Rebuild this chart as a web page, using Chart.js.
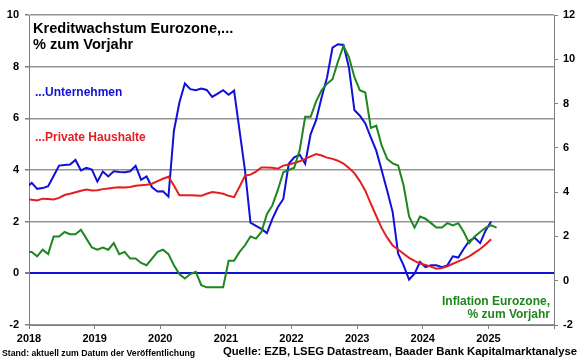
<!DOCTYPE html>
<html lang="de">
<head>
  <meta charset="UTF-8">
  <title>Kreditwachstum Eurozone</title>
  <script src="https://cdn.jsdelivr.net/npm/chart.js@4"></script>
  <style>
    html, body { margin: 0; padding: 0; background: #fff; }
  </style>
</head>
<body>
  <canvas id="chart" width="580" height="359"></canvas>

  <script>
    // Monthly data, Dec 2017 .. Feb 2025
    const months = [
      '2017-12',
      '2018-01','2018-02','2018-03','2018-04','2018-05','2018-06','2018-07','2018-08','2018-09','2018-10','2018-11','2018-12',
      '2019-01','2019-02','2019-03','2019-04','2019-05','2019-06','2019-07','2019-08','2019-09','2019-10','2019-11','2019-12',
      '2020-01','2020-02','2020-03','2020-04','2020-05','2020-06','2020-07','2020-08','2020-09','2020-10','2020-11','2020-12',
      '2021-01','2021-02','2021-03','2021-04','2021-05','2021-06','2021-07','2021-08','2021-09','2021-10','2021-11','2021-12',
      '2022-01','2022-02','2022-03','2022-04','2022-05','2022-06','2022-07','2022-08','2022-09','2022-10','2022-11','2022-12',
      '2023-01','2023-02','2023-03','2023-04','2023-05','2023-06','2023-07','2023-08','2023-09','2023-10','2023-11','2023-12',
      '2024-01','2024-02','2024-03','2024-04','2024-05','2024-06','2024-07','2024-08','2024-09','2024-10','2024-11','2024-12',
      '2025-01','2025-02'
    ];

    // Kredite an Unternehmen, % yoy (left axis)
    const unternehmen = [
      3.33,
      3.50, 3.27, 3.30, 3.37, 3.77, 4.17, 4.19, 4.21, 4.39, 3.98, 4.08, 4.02,
      3.55, 3.94, 3.75, 3.95, 3.92, 3.91, 3.95, 4.16, 3.62, 3.75, 3.33, 3.17,
      3.18, 2.97, 5.52, 6.61, 7.35, 7.13, 7.09, 7.15, 7.10, 6.83, 6.96, 7.09,
      6.91, 7.07, 5.52, 3.98, 1.96, 1.84, 1.72, 1.56, 2.11, 2.56, 2.88, 4.24,
      4.49, 4.59, 4.24, 5.39, 5.93, 6.81, 7.58, 8.74, 8.87, 8.84, 7.97, 6.32,
      6.10, 5.80, 5.26, 4.75, 3.98, 3.20, 2.37, 0.76, 0.31, -0.24, -0.01, 0.44,
      0.24, 0.31, 0.31, 0.24, 0.31, 0.66, 0.61, 0.95, 1.25, 1.38, 1.17, 1.66,
      2.01, null
    ];

    // Kredite an private Haushalte, % yoy (left axis)
    const haushalte = [
      2.87,
      2.85, 2.82, 2.89, 2.88, 2.86, 2.92, 3.03, 3.08, 3.14, 3.20, 3.24, 3.21,
      3.22, 3.26, 3.28, 3.31, 3.33, 3.32, 3.34, 3.39, 3.41, 3.43, 3.47, 3.57,
      3.66, 3.74, 3.40, 3.02, 3.02, 3.02, 3.01, 3.00, 3.08, 3.15, 3.12, 3.08,
      3.00, 2.95, 3.35, 3.78, 3.82, 3.94, 4.10, 4.10, 4.09, 4.05, 4.17, 4.21,
      4.27, 4.34, 4.43, 4.53, 4.62, 4.56, 4.48, 4.43, 4.36, 4.25, 4.08, 3.88,
      3.57, 3.20, 2.70, 2.22, 1.75, 1.38, 1.08, 0.92, 0.76, 0.60, 0.48, 0.38,
      0.32, 0.26, 0.18, 0.21, 0.27, 0.37, 0.46, 0.55, 0.66, 0.80, 0.94, 1.12,
      1.32, null
    ];

    // Inflation Eurozone, % yoy (right axis)
    const inflation = [
      1.3,
      1.3, 1.1, 1.4, 1.2, 2.0, 2.0, 2.2, 2.1, 2.1, 2.3, 1.9, 1.5,
      1.4, 1.5, 1.4, 1.7, 1.2, 1.3, 1.0, 1.0, 0.8, 0.7, 1.0, 1.3,
      1.4, 1.2, 0.7, 0.3, 0.1, 0.3, 0.4, -0.2, -0.3, -0.3, -0.3, -0.3,
      0.9, 0.9, 1.3, 1.6, 2.0, 1.9, 2.2, 3.0, 3.4, 4.1, 4.9, 5.0,
      5.1, 5.9, 7.4, 7.4, 8.1, 8.6, 8.9, 9.1, 9.9, 10.6, 10.1, 9.2,
      8.6, 8.5, 6.9, 7.0, 6.1, 5.5, 5.3, 5.2, 4.3, 2.9, 2.4, 2.9,
      2.8, 2.6, 2.4, 2.4, 2.6, 2.5, 2.6, 2.2, 1.7, 2.0, 2.2, 2.4,
      2.5, 2.4
    ];

    const titleLines = ['Kreditwachstum Eurozone,...', '% zum Vorjahr'];
    const inflationLabel = ['Inflation Eurozone,', '% zum Vorjahr'];
    const footLeft = 'Stand: aktuell zum Datum der Veröffentlichung';
    const footRight = 'Quelle: EZB, LSEG Datastream, Baader Bank Kapitalmarktanalyse';

    const BLUE = '#1010d8';
    const RED = '#e41e1e';
    const GREEN = '#1e861e';
    const GREY = '#959595';
    const AXIS = '#808080';
    const FONT = '"Liberation Sans", Arial, sans-serif';

    // month -> decimal year, point placed mid-month
    function toX(m) {
      const [y, mo] = m.split('-').map(Number);
      return y + (mo - 0.5) / 12;
    }
    const pts = arr => months.map((m, i) => ({ x: toX(m), y: arr[i] }));

    const textPlugin = {
      id: 'texts',
      beforeDraw(chart) {
        const c = chart.ctx;
        c.save();
        c.fillStyle = '#fff';
        c.fillRect(0, 0, chart.width, chart.height);
        c.restore();
      },
      afterDraw(chart) {
        const c = chart.ctx;
        c.save();
        c.textBaseline = 'alphabetic';
        c.textAlign = 'left';
        c.fillStyle = '#000';
        c.font = 'bold 14.6px ' + FONT;
        c.fillText(titleLines[0], 33, 33);
        c.fillText(titleLines[1], 33, 49);

        c.font = 'bold 12px ' + FONT;
        c.fillStyle = BLUE;
        c.fillText('...Unternehmen', 35, 96);
        c.fillStyle = RED;
        c.fillText('...Private Haushalte', 35, 141);

        c.textAlign = 'right';
        c.fillStyle = GREEN;
        c.fillText(inflationLabel[0], 550, 305);
        c.fillText(inflationLabel[1], 550, 318);

        c.fillStyle = '#000';
        c.font = 'bold 11.3px ' + FONT;
        c.fillText(footRight, 577, 355);
        c.textAlign = 'left';
        c.font = 'bold 8.7px ' + FONT;
        c.fillText(footLeft, 2, 356);
        c.restore();
      }
    };

    new Chart(document.getElementById('chart'), {
      type: 'line',
      data: {
        datasets: [
          { label: 'Inflation', data: pts(inflation), yAxisID: 'yRight', borderColor: GREEN },
          { label: 'Private Haushalte', data: pts(haushalte), yAxisID: 'y', borderColor: RED },
          { label: 'Unternehmen', data: pts(unternehmen), yAxisID: 'y', borderColor: BLUE }
        ]
      },
      options: {
        responsive: false,
        animation: false,
        layout: { padding: { top: 15, bottom: 14, left: 0, right: 0 } },
        elements: {
          line: { borderWidth: 2, tension: 0, fill: false },
          point: { radius: 0 }
        },
        datasets: { line: { clip: 0, spanGaps: false } },
        plugins: { legend: { display: false }, tooltip: { enabled: false } },
        scales: {
          x: {
            type: 'linear',
            min: 2018, max: 2026,
            afterFit(s) { s.height = 20; },
            ticks: {
              stepSize: 1, autoSkip: false, maxRotation: 0, padding: 3,
              color: '#000', font: { family: FONT, size: 11, weight: 'bold' },
              callback: v => (v < 2026 ? String(v) : '')
            },
            grid: { drawOnChartArea: false, tickLength: 4, tickColor: AXIS },
            border: { color: AXIS, width: 1 }
          },
          y: {
            position: 'left',
            min: -2, max: 10,
            afterFit(s) { s.width = 29; },
            ticks: {
              stepSize: 2, padding: 6,
              color: '#000', font: { family: FONT, size: 11, weight: 'bold' }
            },
            grid: {
              color: ctx => (ctx.tick && ctx.tick.value === 0 ? BLUE : GREY),
              lineWidth: ctx => (ctx.tick && ctx.tick.value === 0 ? 2 : 1.5),
              tickLength: 4, tickColor: AXIS
            },
            border: { color: AXIS, width: 1 }
          },
          yRight: {
            position: 'right',
            min: -2, max: 12,
            afterFit(s) { s.width = 26; },
            ticks: {
              stepSize: 2, padding: 5,
              color: '#000', font: { family: FONT, size: 11, weight: 'bold' }
            },
            grid: { drawOnChartArea: false, tickLength: 4, tickColor: AXIS },
            border: { color: AXIS, width: 1 }
          }
        }
      },
      plugins: [textPlugin]
    });
  </script>
</body>
</html>
